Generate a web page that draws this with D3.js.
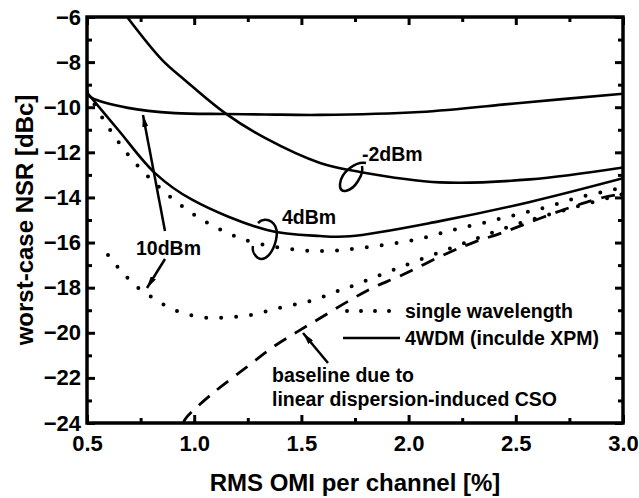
<!DOCTYPE html>
<html>
<head>
<meta charset="utf-8">
<script src="https://cdn.jsdelivr.net/npm/d3@7"></script>
<style>
  body { margin: 0; background: #fff; }
  text { font-family: Arial, "Liberation Sans", sans-serif; font-weight: bold; fill: #000; }
</style>
</head>
<body>
<svg id="chart"></svg>
<script>
// x = RMS OMI per channel [%], y = worst-case NSR [dBc]
var xTicks = [0.5, 1.0, 1.5, 2.0, 2.5, 3.0];
var xMinor = [0.75, 1.25, 1.75, 2.25, 2.75];
var yTicks = [-24, -22, -20, -18, -16, -14, -12, -10, -8, -6];
var yMinor = [-23, -21, -19, -17, -15, -13, -11, -9, -7];

// 4WDM, -2dBm
var wdmM2x = [0.687, 0.85, 0.957, 1.144, 1.33, 1.587, 1.773, 2.146, 2.566, 3.0];
var wdmM2y = [-6.0, -7.9, -8.8, -10.26, -11.36, -12.47, -12.87, -13.33, -13.2, -12.67];
// 4WDM, 10dBm
var wdm10x = [0.5, 0.523, 0.691, 0.91, 1.144, 1.33, 1.587, 2.053, 2.52, 3.0];
var wdm10y = [-9.4, -9.59, -10.03, -10.26, -10.3, -10.32, -10.34, -10.21, -9.81, -9.4];
// 4WDM, 4dBm
var wdm4x = [0.5, 0.645, 0.817, 0.99, 1.34, 1.587, 1.727, 2.146, 2.566, 3.0];
var wdm4y = [-9.35, -11.0, -12.92, -14.1, -15.44, -15.71, -15.72, -15.05, -14.2, -13.15];
// single wavelength, 4dBm
var single4x = [0.5, 0.593, 0.7, 0.836, 0.98, 1.125, 1.27, 1.484, 1.633, 1.773, 1.92, 2.067, 2.207, 2.347, 2.496, 2.645, 2.785, 2.93, 3.0];
var single4y = [-9.3, -10.79, -12.2, -13.54, -14.64, -15.44, -15.97, -16.33, -16.37, -16.24, -16.06, -15.8, -15.44, -15.13, -14.78, -14.42, -14.02, -13.71, -13.55];
// single wavelength, 10dBm
var single10x = [0.598, 0.663, 0.733, 0.808, 0.878, 0.948, 1.027, 1.097, 1.167, 1.237, 1.307, 1.377, 1.456, 1.526, 1.6, 1.67, 1.75, 1.89, 2.249, 2.5, 2.75, 3.0];
var single10y = [-16.55, -17.3, -17.97, -18.46, -18.86, -19.12, -19.3, -19.34, -19.3, -19.25, -19.12, -18.94, -18.77, -18.63, -18.41, -18.15, -17.88, -17.35, -16.06, -15.2, -14.5, -13.85];
// baseline due to linear dispersion-induced CSO
var baseX = [0.948, 0.966, 1.088, 1.246, 1.368, 1.48, 1.596, 1.713, 1.834, 1.96, 2.184, 2.31, 2.436, 2.557, 2.669, 2.79, 2.916, 3.0];
var baseY = [-24, -23.73, -22.67, -21.51, -20.63, -19.96, -19.3, -18.63, -18.0, -17.48, -16.46, -15.97, -15.57, -15.13, -14.73, -14.33, -13.98, -13.85];

var width = 639, height = 498;
var margin = {left: 87, top: 17, right: 16, bottom: 75};
var plotW = width - margin.left - margin.right;
var plotH = height - margin.top - margin.bottom;

var svg = d3.select("#chart")
    .attr("width", width)
    .attr("height", height);

var x = d3.scaleLinear().domain([0.5, 3.0]).range([0, plotW]);
var y = d3.scaleLinear().domain([-24, -6]).range([plotH, 0]);

var chart = svg.append("g")
    .attr("transform", "translate(" + margin.left + "," + margin.top + ")");

function zip(xs, ys) {
    return xs.map(function (d, i) { return [d, ys[i]]; });
}

var line = d3.line()
    .x(function (d) { return x(d[0]); })
    .y(function (d) { return y(d[1]); })
    .curve(d3.curveCatmullRom.alpha(0.5));

chart.append("clipPath").attr("id", "clip")
    .append("rect").attr("width", plotW).attr("height", plotH);

var curves = chart.append("g").attr("clip-path", "url(#clip)");

function drawLine(xs, ys, dash) {
    var p = curves.append("path")
        .datum(zip(xs, ys))
        .attr("fill", "none")
        .attr("stroke", "#000")
        .attr("d", line);
    if (dash === "dot") {
        p.attr("stroke-width", 4).attr("stroke-linecap", "round").attr("stroke-dasharray", "0 15");
    } else if (dash === "dash") {
        p.attr("stroke-width", 2.8).attr("stroke-dasharray", "14 10");
    } else {
        p.attr("stroke-width", 2.6);
    }
}

drawLine(wdmM2x, wdmM2y, "solid");
drawLine(wdm10x, wdm10y, "solid");
drawLine(wdm4x, wdm4y, "solid");
drawLine(single4x, single4y, "dot");
drawLine(single10x, single10y, "dot");
drawLine(baseX, baseY, "dash");

// axes, ticks pointing inward
function styleAxis(g) {
    g.select(".domain").remove();
    g.selectAll(".tick line").attr("stroke", "#000").attr("stroke-width", 3);
    g.selectAll(".tick text").style("font-size", "22px");
}

chart.append("g")
    .attr("transform", "translate(0," + plotH + ")")
    .call(d3.axisBottom(x).tickValues(xTicks).tickSize(-8).tickPadding(12).tickFormat(d3.format(".1f")))
    .call(styleAxis);
chart.append("g")
    .attr("transform", "translate(0," + plotH + ")")
    .call(d3.axisBottom(x).tickValues(xMinor).tickSize(-5).tickFormat(""))
    .call(styleAxis);
chart.append("g")
    .call(d3.axisTop(x).tickValues(xTicks).tickSize(-8).tickFormat(""))
    .call(styleAxis);
chart.append("g")
    .call(d3.axisTop(x).tickValues(xMinor).tickSize(-5).tickFormat(""))
    .call(styleAxis);

chart.append("g")
    .call(d3.axisLeft(y).tickValues(yTicks).tickSize(-8).tickPadding(6).tickFormat(d3.format("d")))
    .call(styleAxis);
chart.append("g")
    .call(d3.axisLeft(y).tickValues(yMinor).tickSize(-5).tickFormat(""))
    .call(styleAxis);
chart.append("g")
    .attr("transform", "translate(" + plotW + ",0)")
    .call(d3.axisRight(y).tickValues(yTicks).tickSize(-8).tickFormat(""))
    .call(styleAxis);
chart.append("g")
    .attr("transform", "translate(" + plotW + ",0)")
    .call(d3.axisRight(y).tickValues(yMinor).tickSize(-5).tickFormat(""))
    .call(styleAxis);

chart.append("rect")
    .attr("width", plotW)
    .attr("height", plotH)
    .attr("fill", "none")
    .attr("stroke", "#000")
    .attr("stroke-width", 3.5);

// axis titles
svg.append("text")
    .attr("x", margin.left + plotW / 2)
    .attr("y", 491)
    .attr("text-anchor", "middle")
    .style("font-size", "24px")
    .text("RMS OMI per channel [%]");

svg.append("text")
    .attr("transform", "translate(33," + (margin.top + plotH / 2) + ") rotate(-90)")
    .attr("text-anchor", "middle")
    .style("font-size", "24px")
    .text("worst-case NSR [dBc]");

// annotations
var defs = svg.append("defs");
defs.append("marker")
    .attr("id", "head")
    .attr("viewBox", "0 0 12 6")
    .attr("refX", 12).attr("refY", 3)
    .attr("markerWidth", 12).attr("markerHeight", 6)
    .attr("markerUnits", "userSpaceOnUse")
    .attr("orient", "auto")
    .append("path").attr("d", "M0,0 L12,3 L0,6 Z").attr("fill", "#000");

function arrow(x1, y1, x2, y2) {
    svg.append("line")
        .attr("x1", x1).attr("y1", y1).attr("x2", x2).attr("y2", y2)
        .attr("stroke", "#000").attr("stroke-width", 2.5)
        .attr("marker-end", "url(#head)");
}

function label(tx, ty, s) {
    svg.append("text").attr("x", tx).attr("y", ty).style("font-size", "19.5px").text(s);
}

label(362, 161, "-2dBm");
label(282, 224, "4dBm");
label(136, 255, "10dBm");

arrow(165, 231, 143, 115);
arrow(165, 259, 147, 288);
arrow(328, 363, 303, 333);

// hand-drawn loops around the curves
svg.append("path")
    .attr("d", "M366,163 C356,161 341,172 340,184 C339,196 352,191 358,181 C362,175 363,170 362,166")
    .attr("fill", "none").attr("stroke", "#000").attr("stroke-width", 2.5);
svg.append("path")
    .attr("d", "M258,223 C266,215 280,222 276,240 C273,253 265,262 258,258 C254,255 252,250 253,246")
    .attr("fill", "none").attr("stroke", "#000").attr("stroke-width", 2.5);

// legend
svg.append("line")
    .attr("x1", 347).attr("x2", 395).attr("y1", 311).attr("y2", 311)
    .attr("stroke", "#000").attr("stroke-width", 4)
    .attr("stroke-linecap", "round").attr("stroke-dasharray", "0 14");
label(405, 318, "single wavelength");
svg.append("line")
    .attr("x1", 343).attr("x2", 400).attr("y1", 338).attr("y2", 338)
    .attr("stroke", "#000").attr("stroke-width", 2.6);
label(405, 345, "4WDM (inculde XPM)");

label(272, 382, "baseline due to");
label(272, 406, "linear dispersion-induced CSO");
</script>
</body>
</html>
